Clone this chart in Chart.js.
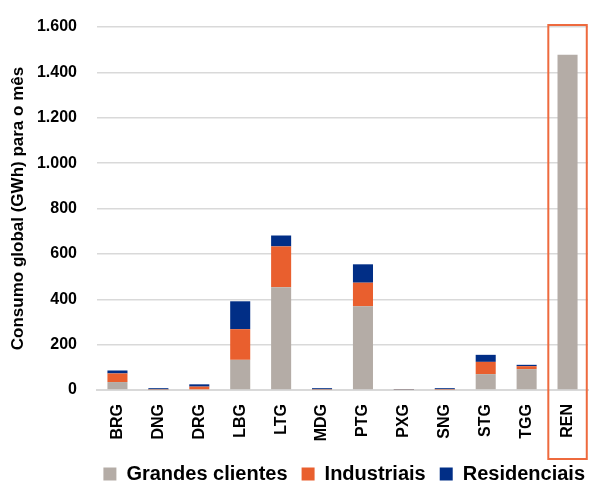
<!DOCTYPE html>
<html>
<head>
<meta charset="utf-8">
<script src="https://cdn.jsdelivr.net/npm/chart.js@4.4.1/dist/chart.umd.min.js"></script>
<style>
    html, body { margin: 0; padding: 0; background: #ffffff; }
    #wrap { width: 589px; height: 484px; }
</style>
</head>
<body>
<div id="wrap"><canvas id="consumo_chart"></canvas></div>
<script>
// Consumo por distribuidora (GWh)
const categories = ['BRG', 'DNG', 'DRG', 'LBG', 'LTG', 'MDG', 'PTG', 'PXG', 'SNG', 'STG', 'TGG', 'REN'];
const grandes_clientes = [35, 1, 3, 133, 453, 1, 369, 0.5, 1, 70, 92, 1478];
const industriais = [38, 2, 12, 135, 180, 2, 104, 1, 3, 54, 13, 0];
const residenciais = [13, 5, 10, 123, 48, 5, 81, 2, 4, 31, 6, 0];
const y_ticks = [0, 200, 400, 600, 800, 1000, 1200, 1400, 1600];

const font_family = "'Liberation Sans', Arial, sans-serif";
const highlight_index = categories.indexOf('REN');

// orange frame around the REN column
const highlight_frame = {
    id: 'highlight_frame',
    beforeDraw(chart) {
        // legend sits a little further right in the original
        if (!chart.legend._shifted) {
            chart.legend.left += 11;
            chart.legend.right += 11;
            chart.legend._shifted = true;
        }
    },
    afterDraw(chart) {
        const x_scale = chart.scales.x;
        const y_scale = chart.scales.y;
        const ctx = chart.ctx;
        const cx = x_scale.getPixelForValue(highlight_index);
        const half = x_scale.width / categories.length * 0.47;
        const top = y_scale.getPixelForValue(1600) - 2;
        const bottom = y_scale.bottom + 69;
        ctx.save();
        ctx.strokeStyle = '#EE6A3E';
        ctx.lineWidth = 2;
        ctx.strokeRect(cx - half, top, half * 2, bottom - top);
        ctx.restore();
    }
};

new Chart(document.getElementById('consumo_chart'), {
    type: 'bar',
    data: {
        labels: categories,
        datasets: [{
            label: 'Grandes clientes',
            data: grandes_clientes,
            backgroundColor: '#B4ACA6'
        }, {
            label: 'Industriais',
            data: industriais,
            backgroundColor: '#E95F2E'
        }, {
            label: 'Residenciais',
            data: residenciais,
            backgroundColor: '#012E86'
        }]
    },
    options: {
        responsive: true,
        maintainAspectRatio: false,
        animation: false,
        devicePixelRatio: 1,
        layout: {
            padding: { left: 0, right: 1, top: 27, bottom: 0 }
        },
        datasets: {
            bar: {
                barPercentage: 1,
                categoryPercentage: 0.49,
                borderWidth: 0
            }
        },
        scales: {
            x: {
                stacked: true,
                grid: { display: false },
                border: { color: '#D9D9D9', width: 2 },
                ticks: {
                    color: '#000000',
                    minRotation: 90,
                    maxRotation: 90,
                    padding: 6,
                    font: { family: font_family, size: 16, weight: 'bold' }
                },
                afterFit(scale) {
                    scale.height = 60;
                    scale.paddingLeft = 0;
                    scale.paddingRight = 0;
                }
            },
            y: {
                stacked: true,
                min: 0,
                max: 1600,
                afterBuildTicks(scale) {
                    scale.ticks = y_ticks.map(v => ({ value: v }));
                },
                ticks: {
                    color: '#000000',
                    padding: 20,
                    font: { family: font_family, size: 16, weight: 'bold' },
                    callback: (value) => value.toLocaleString('de-DE')
                },
                grid: {
                    color: '#D9D9D9',
                    lineWidth: 1.5,
                    drawTicks: false
                },
                border: { display: false },
                title: {
                    display: true,
                    text: 'Consumo global (GWh) para o mês',
                    color: '#000000',
                    padding: { top: 8, bottom: 4 },
                    font: { family: font_family, size: 17, weight: 'bold' }
                },
                afterFit(scale) {
                    scale.width = 97;
                    scale.paddingTop = 0;
                    scale.paddingBottom = 0;
                }
            }
        },
        plugins: {
            legend: {
                position: 'bottom',
                align: 'end',
                maxHeight: 34,
                labels: {
                    color: '#000000',
                    boxWidth: 13,
                    boxHeight: 13,
                    padding: 14,
                    font: { family: font_family, size: 20, weight: 'bold' }
                }
            },
            tooltip: { enabled: false }
        }
    },
    plugins: [highlight_frame]
});
</script>
</body>
</html>
